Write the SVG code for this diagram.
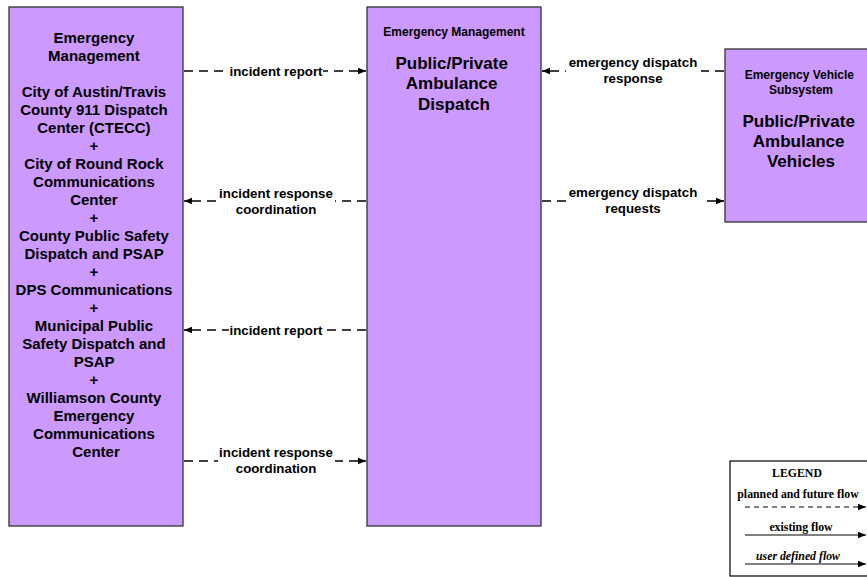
<svg xmlns="http://www.w3.org/2000/svg" width="867" height="577" viewBox="0 0 867 577">
<defs>
<marker id="ah" viewBox="0 0 10 10" refX="10" refY="5" markerWidth="8" markerHeight="8" markerUnits="userSpaceOnUse" orient="auto">
<path d="M0,1 L10,5 L0,9 z" fill="#000"/>
</marker>
<style>
.box{fill:#CC99FF;stroke:#333;stroke-width:1.3}
.t{font-family:"Liberation Sans",Arial,sans-serif;font-weight:bold;fill:#000;text-anchor:middle}
.n14{font-size:15px}
.n16{font-size:17px}
.n11{font-size:12px}
.lbl{font-family:"Liberation Sans",Arial,sans-serif;font-weight:bold;font-size:13.3px;fill:#000;text-anchor:middle}
.bg{fill:#fff}
.flow{stroke:#000;stroke-width:1.4;stroke-dasharray:9,6;fill:none}
.lg{font-family:"Liberation Serif","Times New Roman",serif;font-weight:bold;font-size:11.8px;fill:#000;text-anchor:middle}
</style>
</defs>
<rect width="867" height="577" fill="#fff"/>
<g id="node-left">
<rect class="box" x="9" y="7" width="174" height="519"/>
<text class="t n14">
<tspan x="96" y="43">Emergency</tspan>
<tspan x="96" y="61">Management</tspan>
<tspan x="96" y="97">City of Austin/Travis</tspan>
<tspan x="96" y="115">County 911 Dispatch</tspan>
<tspan x="96" y="133">Center (CTECC)</tspan>
<tspan x="96" y="151">+</tspan>
<tspan x="96" y="169">City of Round Rock</tspan>
<tspan x="96" y="187">Communications</tspan>
<tspan x="96" y="205">Center</tspan>
<tspan x="96" y="223">+</tspan>
<tspan x="96" y="241">County Public Safety</tspan>
<tspan x="96" y="259">Dispatch and PSAP</tspan>
<tspan x="96" y="277">+</tspan>
<tspan x="96" y="295">DPS Communications</tspan>
<tspan x="96" y="313">+</tspan>
<tspan x="96" y="331">Municipal Public</tspan>
<tspan x="96" y="349">Safety Dispatch and</tspan>
<tspan x="96" y="367">PSAP</tspan>
<tspan x="96" y="385">+</tspan>
<tspan x="96" y="403">Williamson County</tspan>
<tspan x="96" y="421">Emergency</tspan>
<tspan x="96" y="439">Communications</tspan>
<tspan x="96" y="457">Center</tspan>
</text>
</g>
<g id="node-middle">
<rect class="box" x="367" y="7" width="174" height="519"/>
<text class="t n11" x="454" y="36">Emergency Management</text>
<text class="t n16">
<tspan x="454" y="69">Public/Private</tspan>
<tspan x="454" y="89">Ambulance</tspan>
<tspan x="454" y="110">Dispatch</tspan>
</text>
</g>
<g id="node-right">
<rect class="box" x="725" y="49" width="150" height="173"/>
<text class="t n11">
<tspan x="801" y="79">Emergency Vehicle</tspan>
<tspan x="801" y="94">Subsystem</tspan>
</text>
<text class="t n16">
<tspan x="801" y="127">Public/Private</tspan>
<tspan x="801" y="147">Ambulance</tspan>
<tspan x="801" y="167">Vehicles</tspan>
</text>
</g>
<g id="connectors">
<line class="flow" x1="184" y1="71" x2="366" y2="71" marker-end="url(#ah)"/>
<line class="flow" x1="366" y1="201" x2="184" y2="201" marker-end="url(#ah)"/>
<line class="flow" x1="366" y1="330" x2="184" y2="330" marker-end="url(#ah)"/>
<line class="flow" x1="184" y1="461" x2="366" y2="461" marker-end="url(#ah)"/>
<line class="flow" x1="724" y1="71" x2="542" y2="71" marker-end="url(#ah)"/>
<line class="flow" x1="542" y1="201" x2="724" y2="201" marker-end="url(#ah)"/>
<rect class="bg" x="229" y="63" width="94" height="16"/>
<text class="lbl" x="276" y="76">incident report</text>
<rect class="bg" x="218" y="185" width="117" height="32"/>
<text class="lbl" x="276" y="198">incident response</text>
<text class="lbl" x="276" y="214">coordination</text>
<rect class="bg" x="229" y="322" width="94" height="16"/>
<text class="lbl" x="276" y="335">incident report</text>
<rect class="bg" x="218" y="444" width="117" height="32"/>
<text class="lbl" x="276" y="457">incident response</text>
<text class="lbl" x="276" y="473">coordination</text>
<rect class="bg" x="566" y="54" width="135" height="32"/>
<text class="lbl" x="633" y="67">emergency dispatch</text>
<text class="lbl" x="633" y="83">response</text>
<rect class="bg" x="566" y="184" width="135" height="32"/>
<text class="lbl" x="633" y="197">emergency dispatch</text>
<text class="lbl" x="633" y="213">requests</text>
</g>
<g id="legend">
<rect x="730" y="461" width="140" height="115" fill="#fff" stroke="#000" stroke-width="1.2"/>
<text class="lg" x="797" y="477">LEGEND</text>
<text class="lg" x="798" y="498">planned and future flow</text>
<line x1="745" y1="507" x2="866" y2="507" stroke="#000" stroke-width="1" stroke-dasharray="5,4" marker-end="url(#ah)"/>
<text class="lg" x="801" y="531">existing flow</text>
<line x1="745" y1="535" x2="866" y2="535" stroke="#000" stroke-width="1" marker-end="url(#ah)"/>
<text class="lg" x="798" y="560" font-style="italic">user defined flow</text>
<line x1="745" y1="564" x2="866" y2="564" stroke="#000" stroke-width="1" marker-end="url(#ah)"/>
</g>
</svg>
